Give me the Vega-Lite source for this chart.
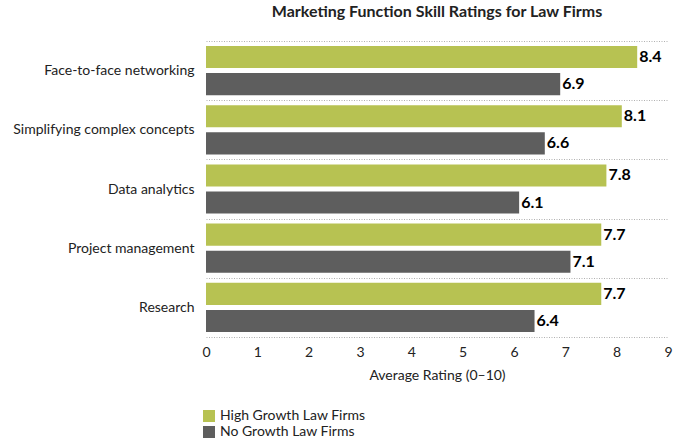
{
  "$schema": "https://vega.github.io/schema/vega-lite/v6.json",
  "width": 462,
  "height": 296,
  "autosize": {"type": "none"},
  "padding": {"left": 206, "top": 41, "right": 31, "bottom": 109},
  "background": "white",
  "title": {
    "text": "Marketing Function Skill Ratings for Law Firms",
    "font": "Lato",
    "fontSize": 16,
    "fontWeight": "bold",
    "color": "#222222",
    "anchor": "middle",
    "offset": 14
  },
  "config": {"view": {"stroke": null}},
  "data": {
    "values": [
      {"skill": "Face-to-face networking", "group": "High Growth Law Firms", "value": 8.4},
      {"skill": "Face-to-face networking", "group": "No Growth Law Firms", "value": 6.9},
      {"skill": "Simplifying complex concepts", "group": "High Growth Law Firms", "value": 8.1},
      {"skill": "Simplifying complex concepts", "group": "No Growth Law Firms", "value": 6.6},
      {"skill": "Data analytics", "group": "High Growth Law Firms", "value": 7.8},
      {"skill": "Data analytics", "group": "No Growth Law Firms", "value": 6.1},
      {"skill": "Project management", "group": "High Growth Law Firms", "value": 7.7},
      {"skill": "Project management", "group": "No Growth Law Firms", "value": 7.1},
      {"skill": "Research", "group": "High Growth Law Firms", "value": 7.7},
      {"skill": "Research", "group": "No Growth Law Firms", "value": 6.4}
    ]
  },
  "encoding": {
    "y": {
      "field": "skill",
      "type": "nominal",
      "sort": ["Face-to-face networking", "Simplifying complex concepts", "Data analytics", "Project management", "Research"],
      "scale": {"paddingInner": 0, "paddingOuter": 0},
      "axis": {
        "title": null,
        "domain": false,
        "ticks": false,
        "grid": true,
        "gridDash": [1, 1.5],
        "gridColor": "#b0b0b0",
        "gridWidth": 1,
        "tickBand": "extent",
        "labelFont": "Lato",
        "labelFontSize": 14,
        "labelColor": "#222222",
        "labelPadding": 12,
        "labelLimit": 300
      }
    },
    "yOffset": {
      "field": "group",
      "type": "nominal",
      "sort": ["High Growth Law Firms", "No Growth Law Firms"],
      "scale": {"paddingInner": 0.185, "paddingOuter": 0.185}
    },
    "x": {
      "field": "value",
      "type": "quantitative",
      "scale": {"domain": [0, 9], "nice": false},
      "axis": {
        "title": "Average Rating (0–10)",
        "values": [0, 1, 2, 3, 4, 5, 6, 7, 8, 9],
        "grid": false,
        "domain": false,
        "ticks": false,
        "labelFlush": false,
        "labelFont": "Lato",
        "labelFontSize": 14,
        "labelColor": "#222222",
        "labelPadding": 8,
        "titleFont": "Lato",
        "titleFontSize": 14,
        "titleFontWeight": "normal",
        "titleColor": "#222222",
        "titlePadding": 9
      }
    }
  },
  "layer": [
    {
      "mark": {"type": "bar"},
      "encoding": {
        "color": {
          "field": "group",
          "type": "nominal",
          "scale": {"domain": ["High Growth Law Firms", "No Growth Law Firms"], "range": ["#b7c252", "#5e5e5e"]},
          "legend": {
            "orient": "none",
            "legendX": -4,
            "legendY": 368,
            "title": null,
            "symbolType": "square",
            "symbolSize": 144,
            "symbolStrokeWidth": 0,
            "symbolOpacity": 1,
            "labelFont": "Lato",
            "labelFontSize": 14,
            "labelColor": "#222222",
            "rowPadding": 2
          }
        }
      }
    },
    {
      "mark": {"type": "text", "align": "left", "baseline": "middle", "dx": 2, "font": "Lato", "fontWeight": "bold", "fontSize": 16, "color": "#000000"},
      "encoding": {"text": {"field": "value", "type": "quantitative", "format": ".1f"}}
    }
  ]
}
